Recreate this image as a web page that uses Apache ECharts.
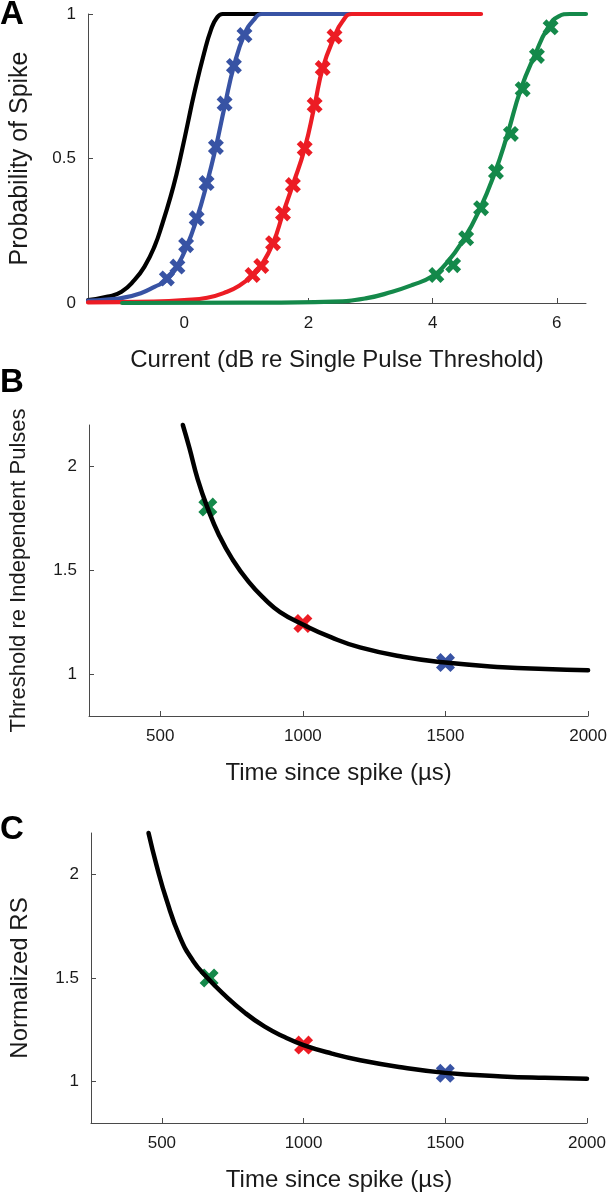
<!DOCTYPE html>
<html>
<head>
<meta charset="utf-8">
<script src="https://cdn.jsdelivr.net/npm/echarts@6/dist/echarts.min.js"></script>
<style>
  html, body { margin: 0; padding: 0; background: #fff; }
  #chart { width: 610px; height: 1193px; }
</style>
</head>
<body>
<div id="chart"></div>
<script>
// ---------- Panel A : probability of spike vs current (dB) ----------
const aTicksX = [0, 2, 4, 6];
const aTicksY = [0, 0.5, 1];

const blackLineX = [-1.55, -1.23, -1.01, -0.80, -0.64, -0.48, -0.35, -0.22, -0.12, -0.04, 0.06, 0.16, 0.32, 0.43, 0.52, 0.62, 2.6];
const blackLineY = [0.010, 0.022, 0.039, 0.080, 0.126, 0.195, 0.276, 0.368, 0.45, 0.525, 0.625, 0.725, 0.865, 0.945, 0.985, 1.0, 1.0];

const blueLineX = [-1.55, -1.25, -1.01, -0.70, -0.48, -0.28, -0.11, 0.03, 0.20, 0.36, 0.51, 0.65, 0.80, 0.97, 1.12, 1.25, 4.7];
const blueLineY = [0.008, 0.012, 0.017, 0.034, 0.056, 0.08, 0.13, 0.19, 0.29, 0.41, 0.54, 0.68, 0.82, 0.93, 0.98, 1.0, 1.0];
const blueMarkX = [-0.28, -0.11, 0.03, 0.20, 0.36, 0.51, 0.65, 0.80, 0.97];
const blueMarkY = [0.085, 0.126, 0.20, 0.293, 0.415, 0.54, 0.69, 0.82, 0.927];

const redLineX = [-1.55, -0.5, 0.0, 0.37, 0.69, 0.90, 1.10, 1.24, 1.43, 1.59, 1.75, 1.94, 2.10, 2.23, 2.42, 2.55, 2.70, 4.78];
const redLineY = [0.002, 0.005, 0.010, 0.018, 0.039, 0.062, 0.095, 0.13, 0.207, 0.31, 0.41, 0.535, 0.685, 0.813, 0.922, 0.975, 1.0, 1.0];
const redMarkX = [1.10, 1.24, 1.43, 1.59, 1.75, 1.94, 2.10, 2.23, 2.42];
const redMarkY = [0.097, 0.128, 0.207, 0.31, 0.408, 0.535, 0.685, 0.813, 0.922];

const greenLineX = [-1.0, 1.0, 2.39, 2.92, 3.35, 3.67, 3.98, 4.22, 4.50, 4.75, 5.00, 5.20, 5.42, 5.65, 5.85, 6.03, 6.21, 6.47];
const greenLineY = [0.0, 0.001, 0.005, 0.016, 0.039, 0.062, 0.091, 0.137, 0.22, 0.32, 0.45, 0.58, 0.74, 0.86, 0.95, 0.992, 1.0, 1.0];
const greenMarkX = [4.06, 4.33, 4.54, 4.78, 5.02, 5.26, 5.45, 5.68, 5.90];
const greenMarkY = [0.097, 0.131, 0.224, 0.328, 0.454, 0.585, 0.74, 0.855, 0.954];

// ---------- Panel B : threshold re independent pulses vs time since spike ----------
const timeTicks = [500, 1000, 1500, 2000];
const bcTicksY = [1, 1.5, 2];

const bCurveX = [579, 602, 631, 666, 706, 752, 810, 868, 920, 1000, 1100, 1200, 1350, 1500, 1700, 1850, 2000];
const bCurveY = [2.2, 2.09, 1.94, 1.80, 1.67, 1.556, 1.445, 1.36, 1.30, 1.24, 1.178, 1.13, 1.085, 1.057, 1.035, 1.026, 1.020];
const bMarkX = [666.7, 1000, 1500];
const bMarkY = [1.805, 1.245, 1.057];

// ---------- Panel C : normalized RS vs time since spike ----------
const cCurveX = [453, 482, 517, 563, 609, 661, 713, 795, 863, 933, 1000, 1100, 1200, 1350, 1500, 1700, 1850, 2000];
const cCurveY = [2.2, 2.04, 1.875, 1.70, 1.585, 1.50, 1.428, 1.33, 1.265, 1.215, 1.176, 1.135, 1.103, 1.068, 1.042, 1.025, 1.018, 1.014];
const cMarkX = [666.7, 1000, 1500];
const cMarkY = [1.50, 1.176, 1.04];

const markColors = ['#14894a', '#ec1c24', '#3853a4'];

// ---------- helpers ----------
const FONT = 'Liberation Sans, Arial, Helvetica, sans-serif';
const AXIS_COLOR = '#4a4a4a';
const TEXT_COLOR = '#1a1a1a';
const X_SYMBOL = 'path://M0,2.4 L2.4,0 L5,2.6 L7.6,0 L10,2.4 L7.4,5 L10,7.6 L7.6,10 L5,7.4 L2.4,10 L0,7.6 L2.6,5 Z';

function zip(xs, ys) { return xs.map((x, i) => [x, ys[i]]); }

function makeAxis(gridIndex, min, max, ticks, name, nameGap, nameSize) {
  return {
    type: 'value', gridIndex, min, max,
    name, nameLocation: 'middle', nameGap,
    nameTextStyle: { fontFamily: FONT, fontSize: nameSize, color: TEXT_COLOR },
    axisLine: { show: true, onZero: false, lineStyle: { color: AXIS_COLOR, width: 1 } },
    axisTick: { show: true, inside: true, length: 5, customValues: ticks, lineStyle: { color: AXIS_COLOR } },
    axisLabel: { show: true, customValues: ticks, fontFamily: FONT, fontSize: 17, color: TEXT_COLOR, margin: 12,
                 formatter: v => String(v) },
    splitLine: { show: false }
  };
}

function lineSeries(xi, yi, xs, ys, color, width) {
  return {
    type: 'line', xAxisIndex: xi, yAxisIndex: yi, data: zip(xs, ys),
    showSymbol: false, smooth: 0.5, clip: false,
    lineStyle: { color, width, cap: 'round', join: 'round' }, silent: true, animation: false
  };
}

function markSeries(xi, yi, xs, ys, color, size) {
  return {
    type: 'scatter', xAxisIndex: xi, yAxisIndex: yi, data: zip(xs, ys),
    symbol: X_SYMBOL, symbolSize: size, itemStyle: { color, opacity: 1 }, silent: true, animation: false
  };
}

function bcMarks(xi, yi, xs, ys) {
  return xs.map((x, i) => markSeries(xi, yi, [x], [ys[i]], markColors[i], 19));
}

const chart = echarts.init(document.getElementById('chart'), null, { renderer: 'canvas' });

const option = {
  backgroundColor: '#ffffff',
  animation: false,
  grid: [
    { left: 83, top: 14, width: 503, height: 289 },
    { left: 85, top: 425, width: 505, height: 291 },
    { left: 83, top: 833, width: 504, height: 290 }
  ],
  xAxis: [
    makeAxis(0, -1.55, 6.47, aTicksX, 'Current (dB re Single Pulse Threshold)', 45, 24),
    makeAxis(1, 250, 2000, timeTicks, 'Time since spike (\u00b5s)', 45, 24),
    makeAxis(2, 250, 2000, timeTicks, 'Time since spike (\u00b5s)', 45, 24)
  ],
  yAxis: [
    makeAxis(0, 0, 1, aTicksY, 'Probability of Spike', 55, 25),
    makeAxis(1, 0.8, 2.2, bcTicksY, 'Threshold re Independent Pulses', 59, 22),
    makeAxis(2, 0.8, 2.2, bcTicksY, 'Normalized RS', 59, 24)
  ],
  graphic: [
    { type: 'text', left: 0, top: -2, style: { text: 'A', font: 'bold 33px ' + FONT, fill: '#000' } },
    { type: 'text', left: 0, top: 366, style: { text: 'B', font: 'bold 33px ' + FONT, fill: '#000' } },
    { type: 'text', left: 0, top: 813, style: { text: 'C', font: 'bold 33px ' + FONT, fill: '#000' } }
  ],
  series: [
    lineSeries(0, 0, blackLineX, blackLineY, '#000000', 4.2),
    lineSeries(0, 0, blueLineX, blueLineY, '#3853a4', 4.2),
    markSeries(0, 0, blueMarkX, blueMarkY, '#3853a4', 16),
    lineSeries(0, 0, redLineX, redLineY, '#ec1c24', 4.2),
    markSeries(0, 0, redMarkX, redMarkY, '#ec1c24', 16),
    lineSeries(0, 0, greenLineX, greenLineY, '#14894a', 4.2),
    markSeries(0, 0, greenMarkX, greenMarkY, '#14894a', 16),

    lineSeries(1, 1, bCurveX, bCurveY, '#000000', 4.5),
    ...bcMarks(1, 1, bMarkX, bMarkY),

    lineSeries(2, 2, cCurveX, cCurveY, '#000000', 4.5),
    ...bcMarks(2, 2, cMarkX, cMarkY)
  ]
};

chart.setOption(option);
</script>
</body>
</html>
